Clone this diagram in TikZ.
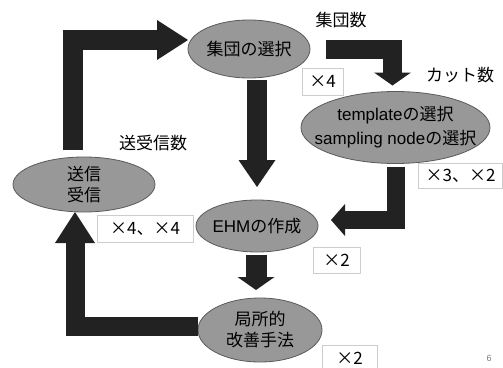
\documentclass[tikz,border=0pt]{standalone}
\usepackage{fontspec}
\setmainfont{Liberation Sans}
\newfontfamily\jp{Noto Sans CJK JP}
\usetikzlibrary{arrows.meta,shapes.geometric}
\definecolor{ellfill}{RGB}{152,152,152}
\definecolor{ellline}{RGB}{90,90,90}
\definecolor{arrowc}{RGB}{34,34,34}
\definecolor{boxc}{RGB}{205,205,205}
\begin{document}
\begin{tikzpicture}[x=1pt,y=-1pt,
  ell/.style={ellipse, draw=ellline, fill=ellfill, line width=0.8pt, inner sep=0pt, outer sep=0pt},
  etext/.style={align=center, inner sep=0pt, font=\fontsize{17}{22}\selectfont},
  lbl/.style={inner sep=0pt, font=\jp\fontsize{17}{20}\selectfont},
  numbox/.style={draw=boxc, fill=white, line width=0.6pt, inner sep=0pt, font=\jp\fontsize{17}{20}\selectfont},
  blk/.style={draw=arrowc, line width=#1, line join=miter},
  blk/.default=20pt
]
\useasboundingbox (0,0) rectangle (503,367);
\fill[white] (0,0) rectangle (503,367);

% ellipses
\node[ell, minimum width=122pt, minimum height=58pt] (g) at (249,49) {};
\node[etext] (gt) at (g) {\jp 集団の選択};
\node[ell, minimum width=189pt, minimum height=72pt] (t) at (395.5,127.5) {};
\node[etext, font=\fontsize{17}{24}\selectfont] (tt) at (t) {template{\jp の選択}\\sampling node{\jp の選択}};
\node[ell, minimum width=142pt, minimum height=55pt] (s) at (84,184.5) {};
\node[etext, font=\jp\fontsize{17}{21}\selectfont] (st) at (s) {送信\\受信};
\node[ell, minimum width=122pt, minimum height=52pt] (e) at (257,226) {};
\node[etext] (et) at (e) {EHM{\jp の作成}};
\node[ell, minimum width=124pt, minimum height=64pt] (l) at (260,330) {};
\node[etext, font=\jp\fontsize{17}{21}\selectfont] (lt) at (l) {局所的\\改善手法};

% block arrows
\draw[blk=20pt, -{Triangle[width=40pt,length=31pt,line width=0pt]}]
  ([xshift=-11pt,yshift=7pt]s.north) |- ([yshift=9pt]g.west);
\draw[blk=20pt, -{Triangle[width=37pt,length=27pt,line width=0pt]}]
  ([xshift=8pt,yshift=-2pt]g.south) -- ([yshift=13pt]e.north);
\draw[blk=19pt, -{Triangle[width=37pt,length=13pt,line width=0pt]}]
  ([xshift=16pt]g.east) -| ([xshift=-3pt,yshift=6pt]t.north);
\draw[blk=18pt, -{Triangle[width=32pt,length=14pt,line width=0pt]}]
  ([xshift=0.5pt,yshift=-3pt]t.south) |- ([xshift=13pt,yshift=6pt]e.east);
\draw[blk=21pt, -{Triangle[width=37pt,length=13pt,line width=0pt]}]
  ([xshift=-1pt,yshift=-3pt]e.south) -- ([xshift=-4pt,yshift=8pt]l.north);
\draw[blk=19pt, -{Triangle[width=40pt,length=31pt,line width=0pt]}]
  ([yshift=4pt]l.west) -| ([xshift=-9pt]s.south);

% labels
\node[lbl] (l1) at (341,20) {集団数};
\node[lbl] (l2) at (460,75) {カット数};
\node[lbl] (l3) at (153,143) {送受信数};

% count boxes
\node[numbox, minimum width=41pt, minimum height=27pt] (b1) at (322.5,81.5) {×4};
\node[numbox, minimum width=84pt, minimum height=25pt] (b2) at (460.5,175.5) {×3、×2};
\node[numbox, minimum width=96pt, minimum height=27pt] (b3) at (145,228.5) {×4、×4};
\node[numbox, minimum width=47pt, minimum height=26pt] (b4) at (336.5,260) {×2};
\node[numbox, minimum width=55pt, minimum height=27pt] (b5) at (349.5,358.5) {×2};

\node[inner sep=0pt, text=gray, font=\fontsize{9}{10}\selectfont] (pg) at (489,358) {6};
\end{tikzpicture}
\end{document}
